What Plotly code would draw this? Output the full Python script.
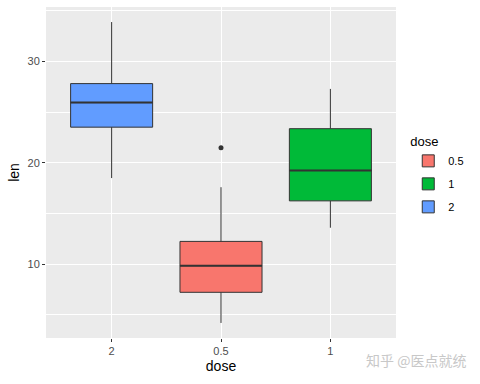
import plotly.graph_objects as go

# Data (ToothGrowth len by dose, boxplot statistics)
doses = ["0.5", "1", "2"]
x_order = ["2", "0.5", "1"]
q1 = [7.225, 16.25, 23.525]
median = [9.85, 19.25, 25.95]
q3 = [12.25, 23.375, 27.825]
lower = [4.2, 13.6, 18.5]
upper = [17.6, 27.3, 33.9]
outlier_dose = ["0.5"]
outlier_len = [21.5]
colors = ["#F8766D", "#00BA38", "#619CFF"]

fig = go.Figure()
for i, d in enumerate(doses):
    fig.add_trace(go.Box(
        x=[d], q1=[q1[i]], median=[median[i]], q3=[q3[i]],
        lowerfence=[lower[i]], upperfence=[upper[i]],
        name=d, legendgroup=d, fillcolor=colors[i],
        line=dict(color="#333333", width=1),
        whiskerwidth=0, width=0.75, boxpoints=False,
        hoverinfo="skip",
    ))

fig.add_trace(go.Scatter(
    x=outlier_dose, y=outlier_len, mode="markers",
    marker=dict(color="#333333", size=5), showlegend=False,
))

# thicker median lines (ggplot style)
for i, d in enumerate(doses):
    idx = x_order.index(d)
    fig.add_shape(type="line", xref="x", yref="y",
                  x0=idx - 0.375, x1=idx + 0.375,
                  y0=median[i], y1=median[i],
                  line=dict(color="#333333", width=2))

fig.update_layout(
    width=480, height=384,
    margin=dict(l=46, r=84, t=7, b=46),
    paper_bgcolor="white", plot_bgcolor="#EBEBEB",
    font=dict(family="Liberation Sans, Arial, sans-serif", size=12, color="#000000"),
    showlegend=True,
    legend=dict(
        title=dict(text="dose", font=dict(size=13)),
        x=1.035, xanchor="left", y=0.63, yanchor="top",
        font=dict(size=11), bgcolor="rgba(0,0,0,0)",
        tracegroupgap=4, itemwidth=30,
    ),
    xaxis=dict(
        type="category", categoryorder="array", categoryarray=x_order,
        range=[-0.6, 2.6],
        showgrid=True, gridcolor="white", gridwidth=1,
        ticks="outside", ticklen=3, tickcolor="#333333",
        tickfont=dict(size=11, color="#4D4D4D"),
        title=dict(text="dose", font=dict(size=14), standoff=4),
        zeroline=False, showline=False,
    ),
    yaxis=dict(
        range=[2.715, 35.385], dtick=10, tick0=0,
        showgrid=True, gridcolor="white", gridwidth=1,
        minor=dict(dtick=5, tick0=0, showgrid=True, gridcolor="white", gridwidth=0.5),
        ticks="outside", ticklen=3, tickcolor="#333333",
        tickfont=dict(size=11, color="#4D4D4D"),
        title=dict(text="len", font=dict(size=14), standoff=4),
        zeroline=False, showline=False,
    ),
    boxgap=0,
)

fig.add_annotation(
    text="知乎 @医点就统", xref="paper", yref="paper",
    x=1.205, y=-0.03, xanchor="right", yanchor="top", showarrow=False,
    font=dict(family="Noto Sans CJK SC", size=14, color="#C8C8C8"),
)

fig.write_html("out.html")
